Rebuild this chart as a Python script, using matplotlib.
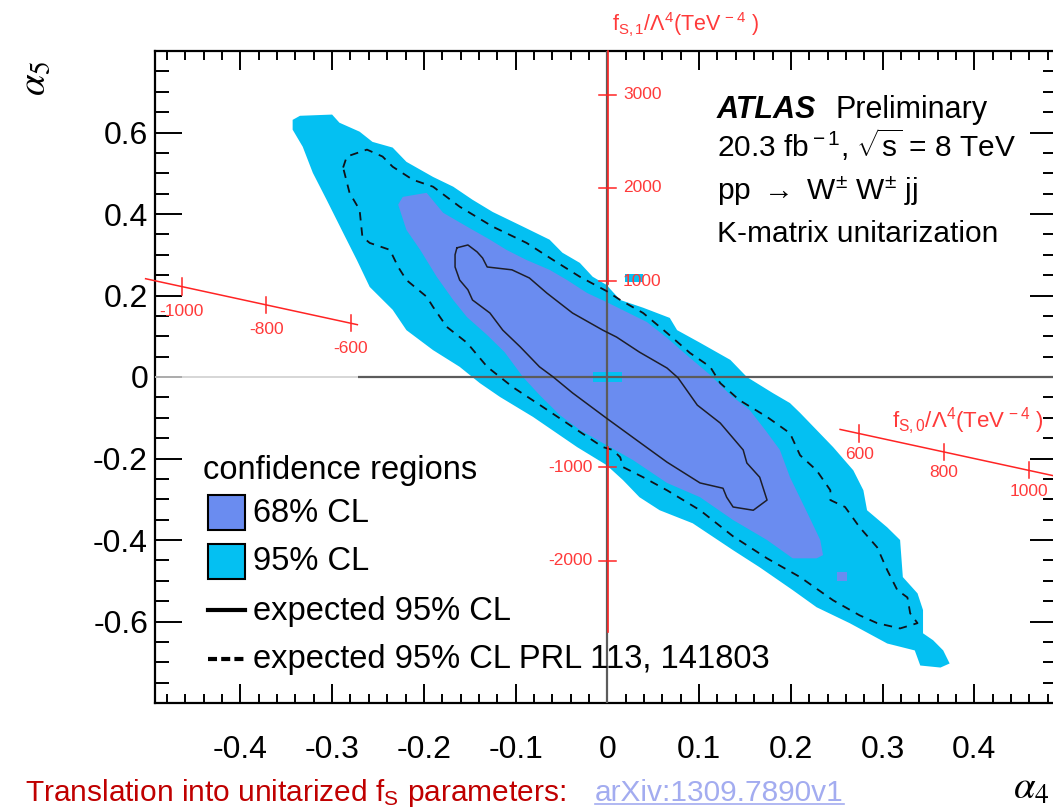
import numpy as np
import matplotlib
matplotlib.use("Agg")
import matplotlib.pyplot as plt
from matplotlib.patches import Rectangle

plt.rcParams["font.family"] = ["Liberation Sans", "DejaVu Sans"]
plt.rcParams["mathtext.fontset"] = "custom"
plt.rcParams["mathtext.rm"] = "Liberation Sans"
plt.rcParams["mathtext.it"] = "Liberation Sans:italic"
plt.rcParams["mathtext.bf"] = "Liberation Sans:bold"
plt.rcParams["axes.unicode_minus"] = False
plt.rcParams["lines.scale_dashes"] = False

# ---------------- data: (alpha4, alpha5) contours ----------------
# observed 95% CL region
cl95_a4 = [-0.343, -0.335, -0.300, -0.292, -0.270, -0.256, -0.234, -0.219, -0.190, -0.168,
           -0.147, -0.125, -0.092, -0.063, -0.049, -0.030, -0.016, -0.001, 0.014, 0.039,
           0.068, 0.076, 0.101, 0.134, 0.152, 0.180, 0.199, 0.210, 0.228, 0.246,
           0.268, 0.279, 0.283, 0.305, 0.319, 0.322, 0.338, 0.344, 0.344, 0.355,
           0.366, 0.373, 0.363, 0.341, 0.335, 0.305, 0.264, 0.228, 0.202, 0.166,
           0.137, 0.093, 0.057, 0.035, 0.017, -0.001, -0.033, -0.081, -0.117, -0.139,
           -0.161, -0.190, -0.219, -0.234, -0.259, -0.273, -0.288, -0.306, -0.321, -0.332,
           -0.343]
cl95_a5 = [0.631, 0.641, 0.644, 0.624, 0.602, 0.577, 0.563, 0.528, 0.491, 0.467,
           0.435, 0.405, 0.369, 0.337, 0.305, 0.280, 0.246, 0.226, 0.189, 0.170,
           0.145, 0.115, 0.084, 0.042, 0.000, -0.039, -0.064, -0.088, -0.130, -0.172,
           -0.229, -0.278, -0.327, -0.369, -0.400, -0.491, -0.531, -0.572, -0.629, -0.646,
           -0.671, -0.703, -0.713, -0.708, -0.671, -0.654, -0.604, -0.565, -0.523, -0.467,
           -0.425, -0.359, -0.327, -0.295, -0.253, -0.216, -0.172, -0.098, -0.049, -0.015,
           0.025, 0.066, 0.115, 0.165, 0.221, 0.287, 0.354, 0.435, 0.501, 0.565,
           0.607]

# observed 68% CL region
cl68_a4 = [-0.228, -0.223, -0.197, -0.179, -0.153, -0.128, -0.110, -0.088, -0.063, -0.044,
           -0.022, -0.001, 0.043, 0.065, 0.090, 0.112, 0.134, 0.155, 0.172, 0.188,
           0.199, 0.218, 0.232, 0.235, 0.228, 0.202, 0.174, 0.137, 0.101, 0.065,
           0.028, -0.001, -0.030, -0.052, -0.074, -0.092, -0.112, -0.131, -0.153, -0.168,
           -0.186, -0.204, -0.219]
cl68_a5 = [0.423, 0.442, 0.452, 0.403, 0.369, 0.337, 0.312, 0.287, 0.263, 0.238,
           0.206, 0.184, 0.135, 0.096, 0.047, 0.005, -0.044, -0.081, -0.130, -0.179,
           -0.246, -0.334, -0.400, -0.437, -0.445, -0.445, -0.400, -0.351, -0.295, -0.260,
           -0.204, -0.167, -0.130, -0.093, -0.044, 0.000, 0.061, 0.103, 0.147, 0.189,
           0.246, 0.312, 0.361]

# expected 95% CL (this analysis)
exp_a4 = [-0.164, -0.152, -0.142, -0.136, -0.131, -0.104, -0.085, -0.066, -0.038, -0.005,
          0.010, 0.035, 0.065, 0.077, 0.098, 0.123, 0.148, 0.152, 0.166, 0.174,
          0.159, 0.137, 0.130, 0.126, 0.101, 0.065, 0.035, -0.001, -0.038, -0.059,
          -0.074, -0.095, -0.114, -0.128, -0.147, -0.152, -0.161, -0.166, -0.166]
exp_a5 = [0.317, 0.324, 0.307, 0.292, 0.270, 0.263, 0.243, 0.206, 0.157, 0.115,
          0.098, 0.061, 0.022, -0.002, -0.069, -0.113, -0.179, -0.211, -0.246, -0.302,
          -0.327, -0.319, -0.295, -0.273, -0.260, -0.209, -0.160, -0.101, -0.039, 0.000,
          0.025, 0.074, 0.115, 0.157, 0.189, 0.214, 0.238, 0.270, 0.300]

# expected 95% CL, PRL 113, 141803
prl_a4 = [-0.288, -0.284, -0.262, -0.245, -0.234, -0.212, -0.190, -0.161, -0.125, -0.088,
          -0.059, -0.030, -0.001, 0.014, 0.039, 0.065, 0.090, 0.112, 0.123, 0.144,
          0.174, 0.199, 0.210, 0.228, 0.243, 0.243, 0.259, 0.275, 0.294, 0.305,
          0.316, 0.327, 0.330, 0.338, 0.319, 0.294, 0.275, 0.246, 0.210, 0.174,
          0.137, 0.101, 0.065, 0.039, 0.017, 0.014, 0.006, -0.005, -0.033, -0.070,
          -0.103, -0.131, -0.153, -0.175, -0.190, -0.197, -0.219, -0.228, -0.237, -0.259,
          -0.267, -0.270, -0.281]
prl_a5 = [0.514, 0.541, 0.558, 0.541, 0.516, 0.484, 0.467, 0.418, 0.369, 0.329,
          0.287, 0.246, 0.211, 0.189, 0.157, 0.108, 0.059, 0.025, -0.015, -0.057,
          -0.098, -0.138, -0.192, -0.229, -0.278, -0.302, -0.319, -0.369, -0.418, -0.474,
          -0.523, -0.541, -0.580, -0.604, -0.617, -0.604, -0.585, -0.548, -0.491, -0.445,
          -0.391, -0.327, -0.278, -0.246, -0.221, -0.197, -0.179, -0.172, -0.130, -0.074,
          -0.025, 0.025, 0.084, 0.123, 0.172, 0.197, 0.238, 0.270, 0.312, 0.329,
          0.344, 0.410, 0.452]

# isolated grid cells (alpha4 lo, alpha4 hi, alpha5 lo, alpha5 hi)
cells_95 = [(0.019, 0.039, 0.232, 0.252), (-0.016, 0.016, -0.013, 0.013)]
cells_68 = [(0.250, 0.261, -0.501, -0.479)]

# axis ticks
x_ticks = [-0.4, -0.3, -0.2, -0.1, 0.0, 0.1, 0.2, 0.3, 0.4]
x_labels = ["-0.4", "-0.3", "-0.2", "-0.1", "0", "0.1", "0.2", "0.3", "0.4"]
y_ticks = [-0.6, -0.4, -0.2, 0.0, 0.2, 0.4, 0.6]
y_labels = ["-0.6", "-0.4", "-0.2", "0", "0.2", "0.4", "0.6"]

# translated f_S scales
fs1_ticks = [3000, 2000, 1000, -1000, -2000]
fs0_ticks_left = [-1000, -800, -600]
fs0_ticks_right = [600, 800, 1000]

C95 = "#04c0f2"
C68 = "#6a8cf0"
RED = "#ff2424"
RED_TXT = "#ff3a3a"


def fs1_to_a5(f):
    return 2.286e-4 * np.asarray(f, dtype=float) + 0.0067


def fs0_to_point(f):
    f = np.asarray(f, dtype=float)
    return 4.615e-4 * f - 0.0025, -2.255e-4 * f - 0.0035


W, H = 1053, 808
fig = plt.figure(figsize=(W / 100, H / 100), dpi=100)
ax = fig.add_axes([155 / W, 1 - 703 / H, 902 / W, 652 / H])
ax.set_xlim(-0.493, 0.490)
ax.set_ylim(-0.8, 0.8)

# confidence regions
ax.fill(cl95_a4, cl95_a5, color=C95, lw=0, zorder=1)
ax.fill(cl68_a4, cl68_a5, color=C68, lw=0, zorder=2)
for x0, x1, y0, y1 in cells_95:
    ax.add_patch(Rectangle((x0, y0), x1 - x0, y1 - y0, color=C95, lw=0, zorder=2.5))
for x0, x1, y0, y1 in cells_68:
    ax.add_patch(Rectangle((x0, y0), x1 - x0, y1 - y0, color=C68, lw=0, zorder=2.5))

# zero lines
ax.hlines(0, -0.493, -0.272, colors="#cfcfcf", lw=1.2, zorder=3)
ax.hlines(0, -0.272, 0.49, colors="#5c5c5c", lw=1.6, zorder=3)
ax.vlines(0, -0.8, 0.8, colors="#5c5c5c", lw=1.6, zorder=3)

# expected contours
ax.plot(exp_a4 + exp_a4[:1], exp_a5 + exp_a5[:1], color="#1e1e28", lw=1.1, zorder=4)
ax.plot(prl_a4 + prl_a4[:1], prl_a5 + prl_a5[:1], color="#111118", lw=1.3,
        ls=(0, (6, 5)), zorder=4)

# frame and ticks
for s in ax.spines.values():
    s.set_linewidth(1.6)
ax.set_xticks(x_ticks, x_labels)
ax.set_yticks(y_ticks, y_labels)
ax.set_xticks(np.arange(-0.48, 0.49, 0.02), minor=True)
ax.set_yticks(np.arange(-0.75, 0.80, 0.05), minor=True)
ax.tick_params(axis="both", which="both", direction="in", top=True, right=True,
               width=1.4, labelsize=23)
ax.tick_params(axis="x", which="major", length=13.5, pad=23)
ax.tick_params(axis="x", which="minor", length=6.5)
ax.tick_params(axis="y", which="major", length=19.5, pad=5)
ax.tick_params(axis="y", which="minor", length=10)

# f_S,1 scale (vertical, red)
ax.plot([0.0005, 0.0005], fs1_to_a5([964, 3470]), color=RED, lw=1.2, zorder=6, clip_on=False)
ax.plot([0.0005, 0.0005], fs1_to_a5([-2763, -777]), color=RED, lw=1.2, zorder=6)
for f in fs1_ticks:
    y = float(fs1_to_a5(f))
    ax.plot([-0.0087, 0.0097], [y, y], color=RED, lw=1.1, zorder=6)
    if f > 0:
        ax.annotate(str(f), (0.0005, y), xytext=(11, 0), textcoords="offset points",
                    ha="left", va="center", fontsize=12.5, color=RED_TXT, zorder=6)
    else:
        ax.annotate(str(f), (0.0005, y), xytext=(-11, 0), textcoords="offset points",
                    ha="right", va="center", fontsize=12.5, color=RED_TXT, zorder=6)

# f_S,0 scale (slanted, red) in two pieces
for f_range, ticks, dy in (([-1085, -585], fs0_ticks_left, -18),
                           ([555, 1110], fs0_ticks_right, -15)):
    lx, ly = fs0_to_point(f_range)
    ax.plot(lx, ly, color=RED, lw=1.1, zorder=6, clip_on=False)
    for f in ticks:
        tx, ty = fs0_to_point(f)
        ax.plot([tx, tx], [ty - 0.02, ty + 0.02], color=RED, lw=1.1, zorder=6, clip_on=False)
        ax.annotate(str(f), (tx, ty), xytext=(0, dy), textcoords="offset points",
                    ha="center", va="center", fontsize=12.5, color=RED_TXT, zorder=6,
                    annotation_clip=False)

# overlay in figure pixel space for text blocks and legend
ov = fig.add_axes([0, 0, 1, 1], zorder=10)
ov.set_xlim(0, W)
ov.set_ylim(H, 0)
ov.axis("off")
ov.patch.set_visible(False)

ov.text(612, 31, r"f$_{\rm S,1}$/$\Lambda^{4}$(TeV$^{\,-4}$ )", color=RED_TXT, fontsize=15.5,
        va="baseline", ha="left")
ov.text(892, 428, r"f$_{\rm S,0}$/$\Lambda^{4}$(TeV$^{\,-4}$ )", color=RED_TXT, fontsize=16,
        va="baseline", ha="left")

ov.text(717, 118, "ATLAS", fontsize=22, fontweight="bold", fontstyle="italic",
        va="baseline", ha="left")
ov.text(835, 118, "Preliminary", fontsize=22, va="baseline", ha="left")
ov.text(717, 157, r"20.3 fb$^{\rm -1}$, $\sqrt{\rm s}$ = 8 TeV", fontsize=21.5,
        va="baseline", ha="left")
ov.text(717, 200, r"pp $\rightarrow$ W$^{\pm}$ W$^{\pm}$ jj", fontsize=21.5,
        va="baseline", ha="left")
ov.text(717, 242, "K-matrix unitarization", fontsize=21.5, va="baseline", ha="left")

# legend
ov.text(203, 479, "confidence regions", fontsize=23.5, va="baseline", ha="left")
ov.add_patch(Rectangle((208, 495), 37, 35, facecolor=C68, edgecolor="black", lw=1.5))
ov.text(253, 522, "68% CL", fontsize=23.5, va="baseline", ha="left")
ov.add_patch(Rectangle((208, 544), 37, 35, facecolor=C95, edgecolor="black", lw=1.5))
ov.text(253, 570, "95% CL", fontsize=23.5, va="baseline", ha="left")
ov.plot([208, 245], [610, 610], color="black", lw=3)
ov.text(253, 620, "expected 95% CL", fontsize=23.5, va="baseline", ha="left")
ov.plot([208, 245], [659, 659], color="black", lw=3, ls=(0, (6.5, 3)))
ov.text(253, 668, "expected 95% CL PRL 113, 141803", fontsize=23.5, va="baseline", ha="left")

# axis titles
ov.text(35, 78, r"$\alpha_{5}$", fontsize=28, rotation=90, ha="center", va="center",
        math_fontfamily="stix")
ov.text(1049, 799, r"$\alpha_{4}$", fontsize=28, ha="right", va="baseline",
        math_fontfamily="stix")

# footer
foot = ov.text(25, 801, r"Translation into unitarized f$_{\rm S}$ parameters: ",
               fontsize=21.5, color="#c00000", va="baseline", ha="left")
link = ov.text(595, 801, "arXiv:1309.7890v1", fontsize=21.5, color="#a3acf0",
               va="baseline", ha="left")
fig.canvas.draw()
bb = link.get_window_extent().transformed(ov.transData.inverted())
ov.plot([bb.x0, bb.x1], [804, 804], color="#a3acf0", lw=1.2)

fig.savefig("out.png", dpi=100)
